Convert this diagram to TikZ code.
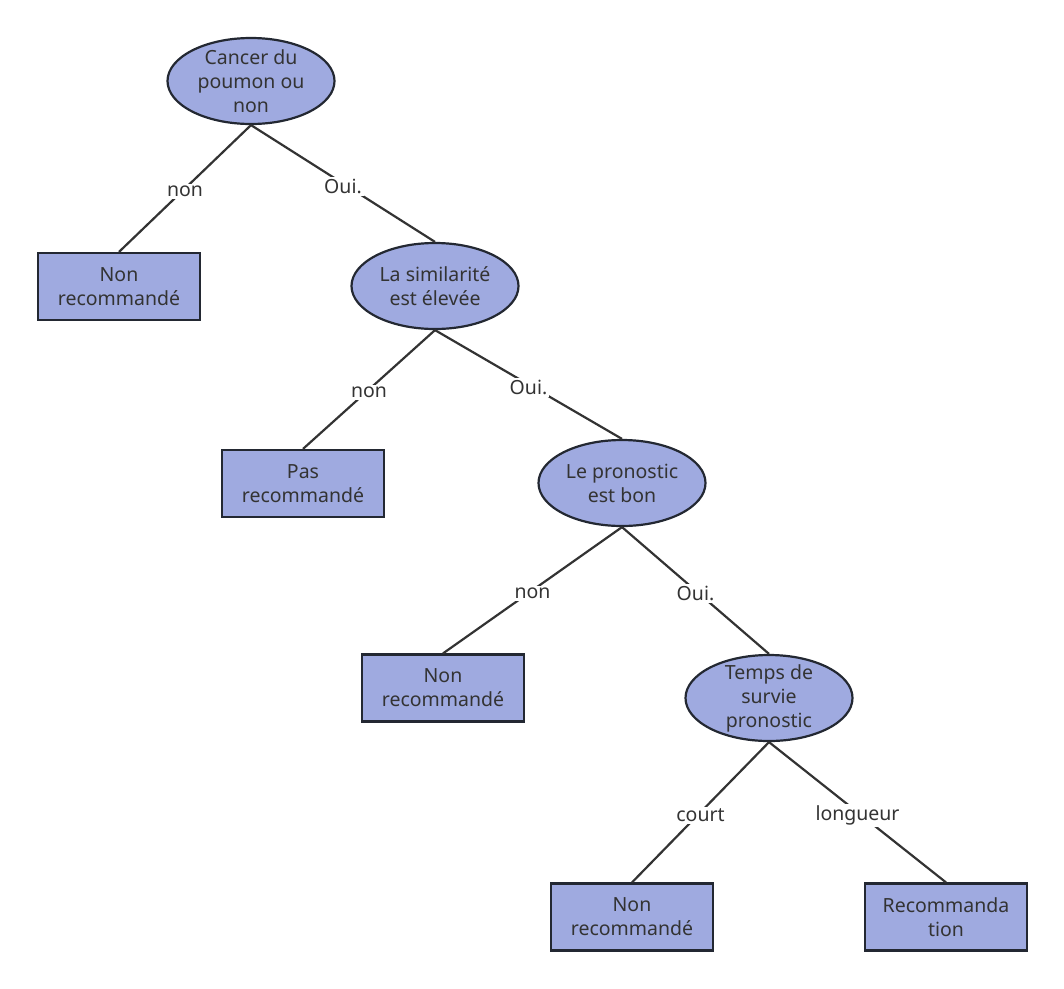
\documentclass[tikz,border=0pt]{standalone}
\usepackage{fontspec}
\setmainfont{Noto Sans}
\definecolor{nodefill}{RGB}{159,170,224}
\definecolor{nodeline}{RGB}{35,40,50}
\definecolor{edgeline}{RGB}{51,51,51}
\definecolor{textgray}{RGB}{51,51,51}
\usetikzlibrary{shapes.geometric}

\begin{document}
\begin{tikzpicture}[x=1pt, y=-1pt,
    question/.style={draw=nodeline, line width=2.2pt, fill=nodefill, ellipse,
      minimum width=167pt, minimum height=86pt, inner xsep=0pt, inner ysep=-4pt,
      align=center, text=textgray, font=\fontsize{19.5}{24}\selectfont},
    leaf/.style={draw=nodeline, line width=2.2pt, fill=nodefill, rectangle,
      minimum width=162pt, minimum height=67pt, inner sep=0pt,
      align=center, text=textgray, font=\fontsize{19.5}{24}\selectfont},
    branch/.style={draw=edgeline, line width=2.2pt},
    answer/.style={fill=white, text=textgray, inner sep=2pt, yshift=-3pt,
      font=\fontsize{19.5}{22}\selectfont}]
  \useasboundingbox (0,0) rectangle (1064,988);

  % questions
  \node[question] (lung) at (251,81) {Cancer du\\poumon ou\\non};
  \node[question] (similar) at (435,286) {La similarit\'e\\est \'elev\'ee};
  \node[question] (prognosis) at (622,483) {Le pronostic\\est bon};
  \node[question] (survival) at (769,698) {Temps de\\survie\\pronostic};

  % leaves
  \node[leaf] (no1) at (119,286.5) {Non\\recommand\'e};
  \node[leaf] (no2) at (303,483.5) {Pas\\recommand\'e};
  \node[leaf] (no3) at (443,688) {Non\\recommand\'e};
  \node[leaf] (no4) at (632,917) {Non\\recommand\'e};
  \node[leaf] (yes) at (946,917) {Recommanda\\tion};

  % branches
  \draw[branch] (lung.south) -- node[answer] {non} (no1.north);
  \draw[branch] (lung.south) -- node[answer] {Oui.} (similar.north);
  \draw[branch] (similar.south) -- node[answer] {non} (no2.north);
  \draw[branch] (similar.south) -- node[answer] {Oui.} (prognosis.north);
  \draw[branch] (prognosis.south) -- node[answer] {non} (no3.north);
  \draw[branch] (prognosis.south) -- node[answer] {Oui.} (survival.north);
  \draw[branch] (survival.south) -- node[answer] {court} (no4.north);
  \draw[branch] (survival.south) -- node[answer] {longueur} (yes.north);
\end{tikzpicture}
\end{document}
